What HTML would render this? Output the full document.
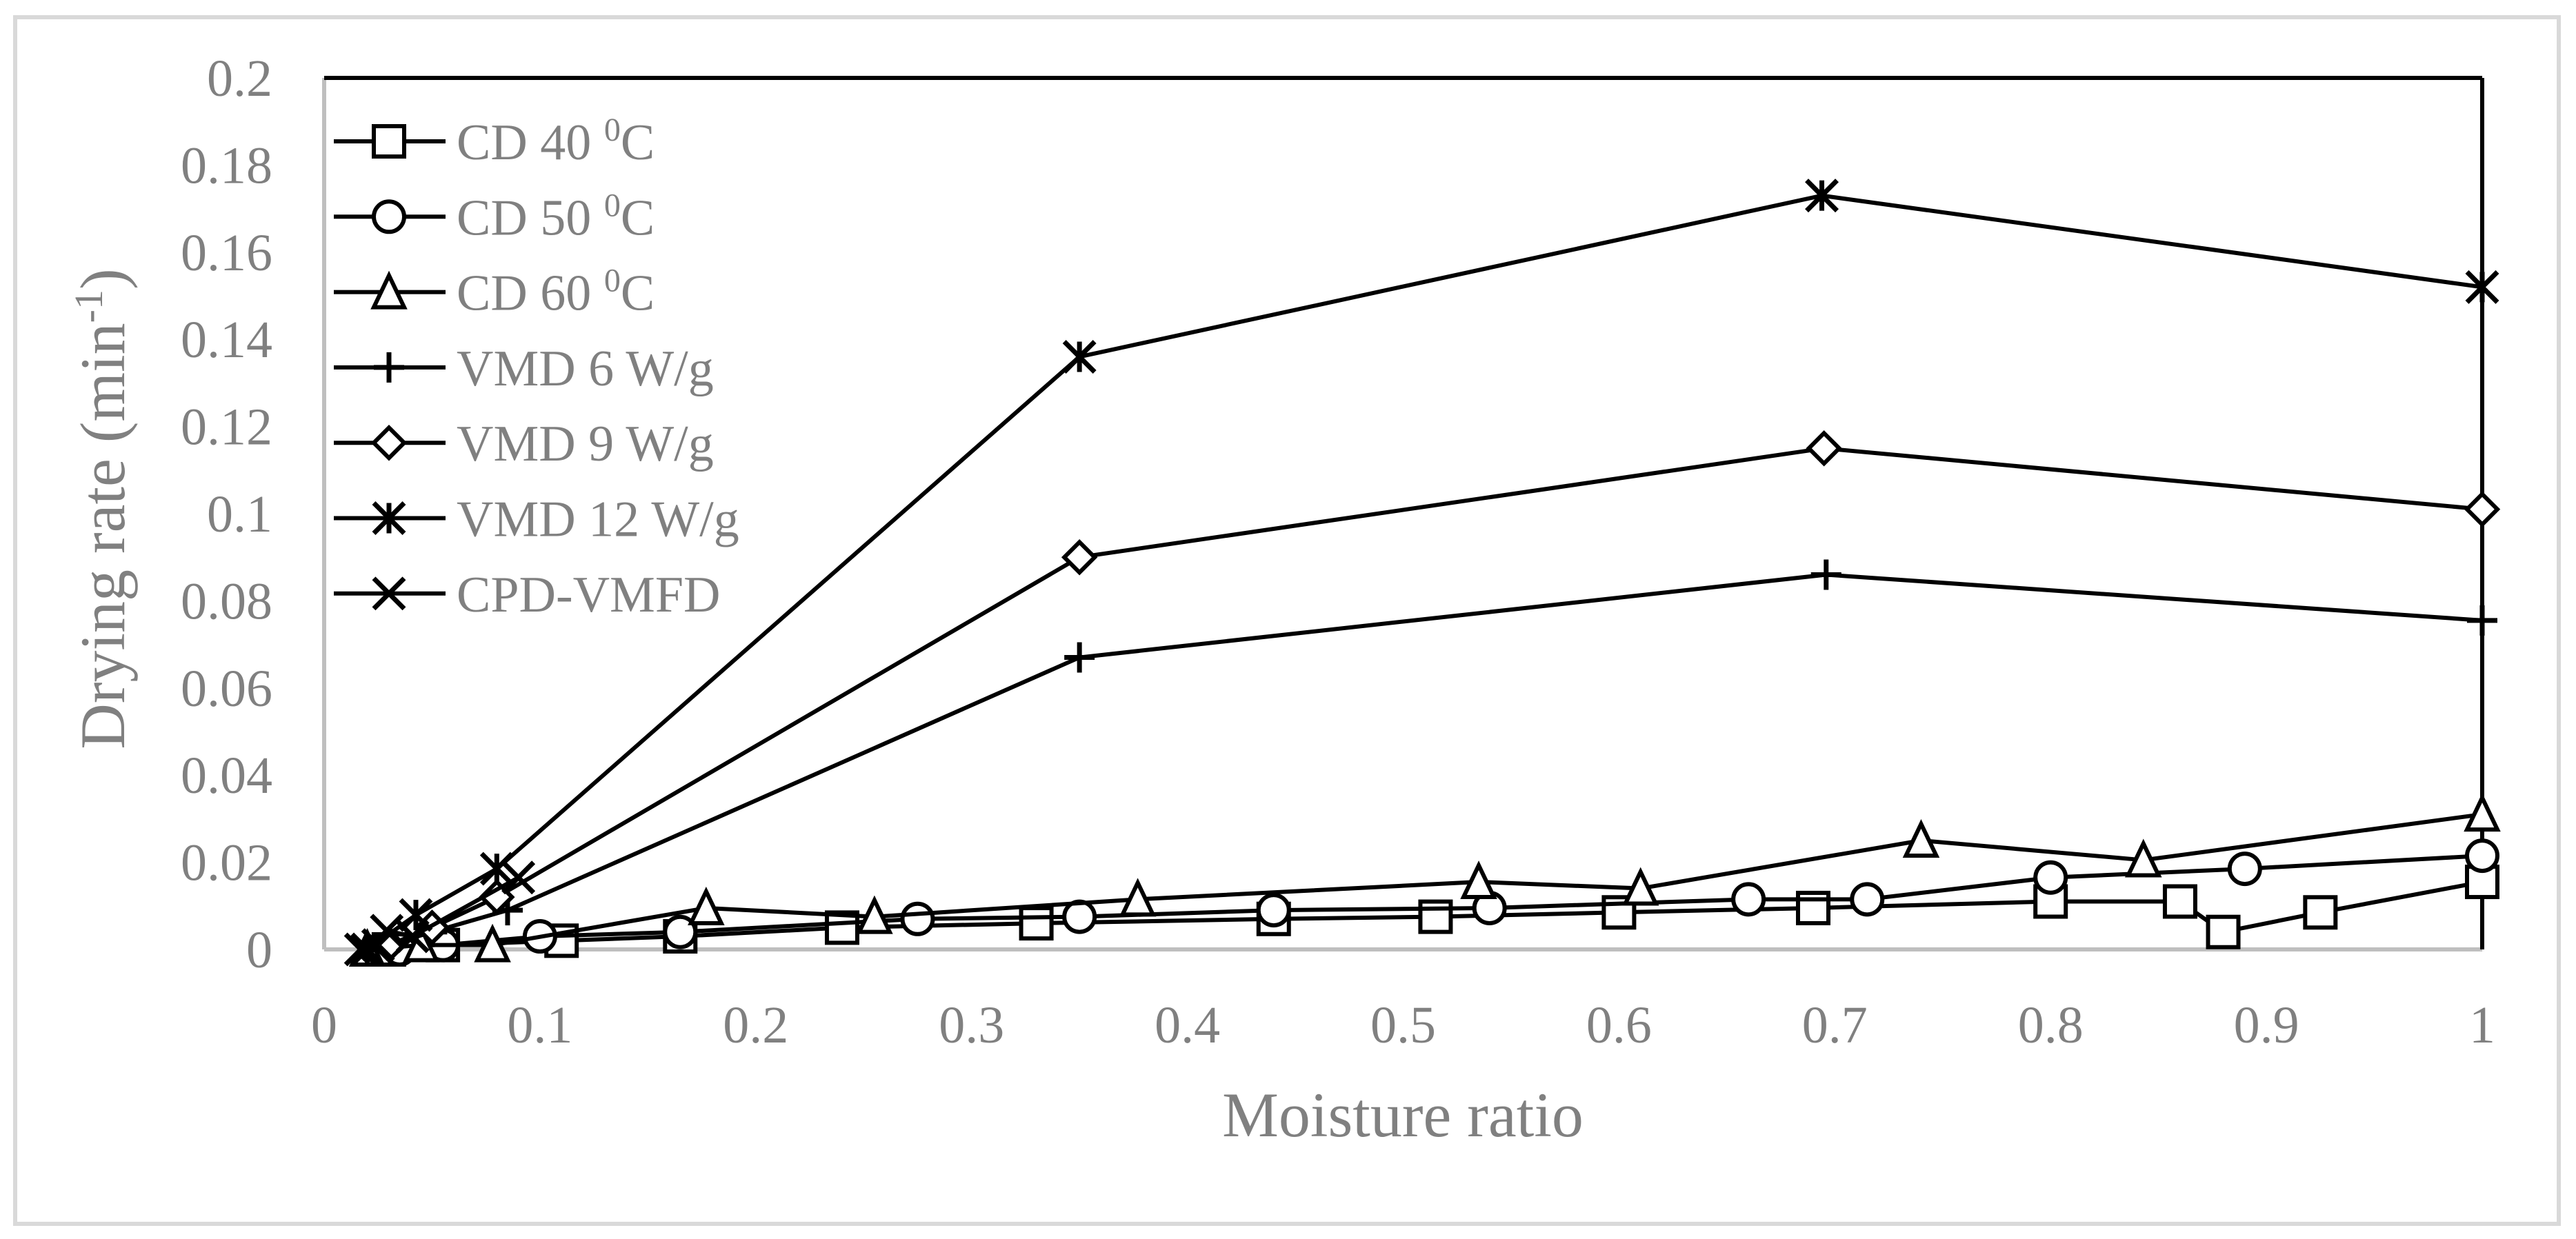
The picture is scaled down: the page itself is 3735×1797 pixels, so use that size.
<!DOCTYPE html>
<html><head><meta charset="utf-8"><style>
html,body{margin:0;padding:0;background:#fff}
svg{display:block}
text{font-family:"Liberation Serif",serif;fill:#808080}
</style></head><body>
<svg id="chart" width="3735" height="1797" viewBox="0 0 3735 1797" xmlns="http://www.w3.org/2000/svg">
<rect x="22" y="25" width="3688" height="1750" fill="#fff" stroke="#d9d9d9" stroke-width="6"/>
<g id="plot"></g>
</svg>
<script>
const xTicks=[0,0.1,0.2,0.3,0.4,0.5,0.6,0.7,0.8,0.9,1];
const xTickLabels=["0","0.1","0.2","0.3","0.4","0.5","0.6","0.7","0.8","0.9","1"];
const yTicks=[0,0.02,0.04,0.06,0.08,0.1,0.12,0.14,0.16,0.18,0.2];
const yTickLabels=["0","0.02","0.04","0.06","0.08","0.1","0.12","0.14","0.16","0.18","0.2"];
const seriesNames=["CD 40 ","CD 50 ","CD 60 ","VMD 6 W/g","VMD 9 W/g","VMD 12 W/g","CPD-VMFD"];
const seriesMarkers=["square","circle","triangle","plus","diamond","asterisk","cross"];
const cd40X=[0.03,0.055,0.11,0.165,0.24,0.33,0.44,0.515,0.6,0.69,0.8,0.86,0.88,0.925,1];
const cd40Y=[0,0.001,0.002,0.003,0.005,0.006,0.007,0.0075,0.0085,0.0095,0.011,0.011,0.004,0.0085,0.0155];
const cd50X=[0.035,0.055,0.1,0.165,0.275,0.35,0.44,0.54,0.66,0.715,0.8,0.89,1];
const cd50Y=[0,0.001,0.003,0.004,0.007,0.0075,0.009,0.0095,0.0115,0.0115,0.0165,0.0185,0.0215];
const cd60X=[0.02,0.045,0.078,0.177,0.255,0.377,0.535,0.61,0.74,0.843,1];
const cd60Y=[0,0.001,0.001,0.0095,0.0075,0.0115,0.0155,0.014,0.025,0.0205,0.031];
const vmd6X=[0.03,0.05,0.085,0.35,0.696,1];
const vmd6Y=[0.001,0.004,0.009,0.067,0.086,0.0755];
const vmd9X=[0.03,0.05,0.08,0.35,0.695,1];
const vmd9Y=[0.001,0.005,0.012,0.090,0.115,0.101];
const vmd12X=[0.02,0.0425,0.08,0.35,0.694,1];
const vmd12Y=[0,0.0079,0.0185,0.136,0.173,0.152];
const cpdX=[0.017,0.025,0.029,0.041,0.09];
const cpdY=[0,0.001,0.0043,0.003,0.0165];

const X0=470,X1=3599,YB=1377,YT=113;
const sx=v=>X0+(X1-X0)*v;
const sy=v=>YB-(YB-YT)*v/0.2;
const NS="http://www.w3.org/2000/svg";
const g=document.getElementById('plot');
function mk(tag,attrs,parent){const e=document.createElementNS(NS,tag);for(const k in attrs)e.setAttribute(k,attrs[k]);(parent||g).appendChild(e);return e;}

let ax=mk('line',{x1:X0,y1:YT,x2:X0,y2:YB,stroke:'#bfbfbf','stroke-width':6});


ax=mk('line',{x1:X0,y1:YB,x2:X1,y2:YB,stroke:'#bfbfbf','stroke-width':6});


ax=mk('line',{x1:X0,y1:YT,x2:X1,y2:YT,stroke:'#000','stroke-width':6});


ax=mk('line',{x1:X1,y1:YT,x2:X1,y2:YB,stroke:'#000','stroke-width':6});



xTicks.forEach((v,i)=>{const t=mk('text',{x:sx(v),y:1512,'font-size':76,'text-anchor':'middle'});t.textContent=xTickLabels[i];

});
yTicks.forEach((v,i)=>{const t=mk('text',{x:395,y:sy(v)+26,'font-size':76,'text-anchor':'end'});t.textContent=yTickLabels[i];

});

let tt=mk('text',{x:2034,y:1648,'font-size':92,'text-anchor':'middle'});tt.textContent='Moisture ratio';


tt=mk('text',{x:0,y:0,'font-size':92,'text-anchor':'middle',transform:'translate(180,738) rotate(-90)'});
tt.innerHTML='Drying rate (min<tspan dy="-32" font-size="58">-1</tspan><tspan dy="32">)</tspan>';



function marker(type,cx,cy,parent){
  const s=22,st={stroke:'#000','stroke-width':6,fill:'#fff'};
  let e;
  if(type==='square')e=mk('rect',Object.assign({x:cx-s,y:cy-s,width:2*s,height:2*s},st),parent);
  else if(type==='circle')e=mk('circle',Object.assign({cx:cx,cy:cy,r:s},st),parent);
  else if(type==='triangle')e=mk('polygon',Object.assign({points:`${cx},${cy-s-2} ${cx+s},${cy+s} ${cx-s},${cy+s}`},st),parent);
  else if(type==='diamond')e=mk('polygon',Object.assign({points:`${cx},${cy-s} ${cx+s},${cy} ${cx},${cy+s} ${cx-s},${cy}`},st),parent);
  else {
    let d='';
    if(type==='plus'||type==='asterisk')d+=`M${cx},${cy-s}V${cy+s}`;
    if(type==='plus')d+=`M${cx-s},${cy}H${cx+s}`;
    if(type==='asterisk'||type==='cross')d+=`M${cx-s},${cy-s}L${cx+s},${cy+s}M${cx+s},${cy-s}L${cx-s},${cy+s}`;
    e=mk('path',{d:d,stroke:'#000','stroke-width':7,fill:'none'},parent);
  }
  return e;
}

const allX=[cd40X,cd50X,cd60X,vmd6X,vmd9X,vmd12X,cpdX];
const allY=[cd40Y,cd50Y,cd60Y,vmd6Y,vmd9Y,vmd12Y,cpdY];
const seriesKeys=['cd-40','cd-50','cd-60','vmd-6','vmd-9','vmd-12','cpd-vmfd'];
allX.forEach((xs,si)=>{
  const grp=mk('g',{});
  
  
  const pts=xs.map((v,i)=>sx(v)+','+sy(allY[si][i])).join(' ');
  const pl=mk('polyline',{points:pts,fill:'none',stroke:'#000','stroke-width':6,'stroke-linejoin':'round'},grp);
  
  
  xs.forEach((v,i)=>{const m=marker(seriesMarkers[si],sx(v),sy(allY[si][i]),grp);
    
    });
});

const lg=mk('g',{});


seriesNames.forEach((n,i)=>{
  const y=205+i*109.3;
  const ent=mk('g',{},lg);
  
  
  mk('line',{x1:484,y1:y,x2:646,y2:y,stroke:'#000','stroke-width':6},ent);
  marker(seriesMarkers[i],564,y,ent);
  const t=mk('text',{x:662,y:y+26,'font-size':74},ent);
  if(i<3)t.innerHTML=n+'<tspan dy="-27" font-size="48">0</tspan><tspan dy="27">C</tspan>';
  else t.textContent=n;
});
</script>
</body></html>
